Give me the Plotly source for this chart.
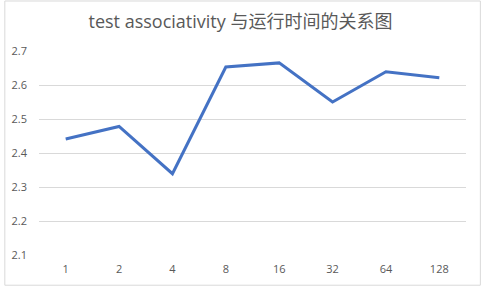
import plotly.graph_objects as go

categories = ["1", "2", "4", "8", "16", "32", "64", "128"]
values = [2.441, 2.478, 2.339, 2.653, 2.665, 2.550, 2.639, 2.621]
y_ticks = [2.1, 2.2, 2.3, 2.4, 2.5, 2.6, 2.7]

W, H = 481, 288
L, R, T, B = 35, 15, 51, 31
pw = W - L - R
ph = H - T - B

fig = go.Figure()
fig.add_trace(go.Scatter(
    x=categories, y=values, mode="lines",
    line=dict(color="#4472C4", width=3),
    hoverinfo="skip", showlegend=False,
))

tick_font = dict(family="'Open Sans', 'Noto Sans', sans-serif", size=11, color="#595959")

fig.update_layout(
    width=W, height=H,
    margin=dict(l=L, r=R, t=T, b=B),
    paper_bgcolor="white", plot_bgcolor="white",
    title=dict(
        text="test associativity 与运行时间的关系图",
        x=0.5, xref="container", xanchor="center",
        y=1 - 22 / H, yanchor="middle", yref="container",
        font=dict(family="'Open Sans', 'Noto Sans CJK SC', sans-serif", size=18, color="#595959"),
    ),
    xaxis=dict(
        type="category", range=[-0.5, 7.5],
        showgrid=False, showline=False, zeroline=False,
        ticks="", ticklabelstandoff=6,
        tickfont=tick_font,
    ),
    yaxis=dict(
        range=[2.1, 2.7], tickvals=y_ticks, ticktext=[f"{v:.1f}" for v in y_ticks],
        showgrid=True, gridcolor="#d9d9d9", gridwidth=1,
        showline=False, zeroline=False,
        ticks="", ticklabelstandoff=11,
        tickfont=tick_font,
    ),
    shapes=[dict(
        type="rect", xref="paper", yref="paper",
        x0=-(L - 0.5) / pw, x1=1 + (R - 0.5) / pw,
        y0=-(B - 0.5) / ph, y1=1 + (T - 0.5) / ph,
        line=dict(color="#d9d9d9", width=1), fillcolor="rgba(0,0,0,0)",
    )],
)

fig.write_html("out.html")
